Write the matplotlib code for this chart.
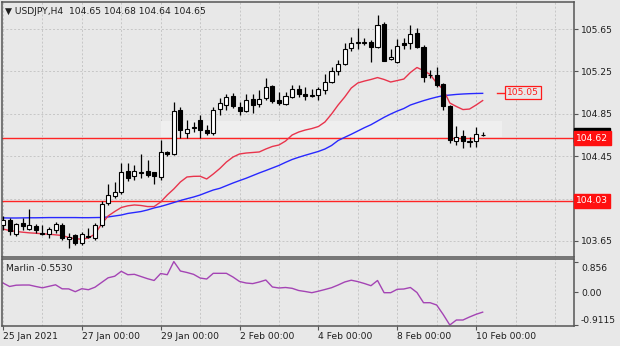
import numpy as np
import matplotlib.pyplot as plt
from matplotlib.patches import Rectangle
from matplotlib.transforms import ScaledTranslation

# USDJPY H4 candles, 25 Jan 2021 00:00 .. 10 Feb 2021 04:00
opens = [103.80, 103.85, 103.72, 103.82, 103.76, 103.79, 103.73, 103.72, 103.75, 103.80,
         103.67, 103.71, 103.63, 103.69, 103.68, 103.80, 104.01, 104.07, 104.11, 104.31,
         104.26, 104.29, 104.31, 104.30, 104.25, 104.49, 104.47, 104.89, 104.67, 104.72,
         104.79, 104.70, 104.67, 104.90, 104.93, 105.02, 104.91, 104.88, 104.99, 104.94,
         105.00, 105.11, 104.98, 104.94, 105.01, 105.08, 105.04, 105.02, 105.03, 105.075,
         105.15, 105.25, 105.32, 105.47, 105.515, 105.52, 105.53, 105.48, 105.70, 105.365,
         105.34, 105.515, 105.515, 105.61, 105.48, 105.216, 105.22, 105.13, 104.92, 104.59,
         104.64, 104.587, 104.59, 104.65]
highs = [103.89, 103.864, 103.823, 103.864, 103.949, 103.808, 103.80, 103.78, 103.833, 103.817,
         103.723, 103.717, 103.738, 103.77, 103.817, 104.031, 104.188, 104.21, 104.383, 104.383,
         104.367, 104.471, 104.415, 104.30, 104.603, 104.50, 104.965, 104.917, 104.792, 104.776,
         104.839, 104.745, 104.917, 104.996, 105.04, 105.05, 104.965, 105.04, 105.04, 105.075,
         105.185, 105.12, 105.06, 105.06, 105.12, 105.12, 105.106, 105.08, 105.106, 105.23,
         105.295, 105.358, 105.515, 105.578, 105.657, 105.562, 105.546, 105.782, 105.72, 105.459,
         105.553, 105.562, 105.688, 105.657, 105.50, 105.263, 105.29, 105.144, 104.933, 104.735,
         104.697, 104.634, 104.728, 104.68]
lows = [103.75, 103.707, 103.697, 103.754, 103.754, 103.723, 103.707, 103.676, 103.723, 103.66,
        103.581, 103.613, 103.613, 103.676, 103.66, 103.785, 103.99, 104.053, 104.094, 104.22,
        104.226, 104.242, 104.257, 104.188, 104.226, 104.45, 104.462, 104.619, 104.619, 104.682,
        104.619, 104.65, 104.65, 104.839, 104.886, 104.902, 104.839, 104.87, 104.86, 104.917,
        104.98, 104.95, 104.933, 104.93, 104.996, 105.01, 104.98, 105.01, 104.98, 105.04,
        105.138, 105.216, 105.31, 105.445, 105.459, 105.50, 105.342, 105.468, 105.35, 105.358,
        105.332, 105.459, 105.459, 105.468, 105.153, 105.185, 105.10, 104.886, 104.572, 104.556,
        104.525, 104.54, 104.54, 104.64]
closes = [103.85, 103.74, 103.81, 103.79, 103.80, 103.75, 103.72, 103.76, 103.81, 103.68,
          103.69, 103.63, 103.72, 103.70, 103.80, 104.00, 104.08, 104.11, 104.30, 104.24,
          104.31, 104.30, 104.27, 104.26, 104.49, 104.47, 104.88, 104.70, 104.71, 104.725,
          104.70, 104.67, 104.89, 104.95, 105.01, 104.92, 104.88, 104.98, 104.93, 104.99,
          105.10, 104.97, 104.955, 105.02, 105.08, 105.04, 105.02, 105.02, 105.08, 105.15,
          105.25, 105.32, 105.46, 105.52, 105.525, 105.52, 105.48, 105.69, 105.35, 105.39,
          105.49, 105.50, 105.60, 105.48, 105.20, 105.216, 105.12, 104.92, 104.60, 104.63,
          104.59, 104.587, 104.66, 104.65]

# moving averages drawn on the price window
ma_red = [103.763, 103.749, 103.740, 103.733, 103.727, 103.723, 103.718, 103.714, 103.708, 103.702,
          103.683, 103.671, 103.667, 103.678, 103.716, 103.810, 103.886, 103.928, 103.966, 103.982,
          103.990, 103.985, 103.975, 103.975, 104.018, 104.084, 104.141, 104.207, 104.254, 104.260,
          104.261, 104.235, 104.282, 104.334, 104.395, 104.442, 104.471, 104.480, 104.485, 104.490,
          104.518, 104.542, 104.556, 104.593, 104.650, 104.678, 104.697, 104.711, 104.730, 104.773,
          104.848, 104.933, 105.008, 105.093, 105.141, 105.159, 105.174, 105.192, 105.174, 105.150,
          105.164, 105.178, 105.240, 105.287, 105.258, 105.221, 105.141, 105.079, 104.952, 104.919,
          104.890, 104.895, 104.933, 104.975]
ma_blue = [103.868, 103.867, 103.867, 103.868, 103.869, 103.869, 103.870, 103.871, 103.871, 103.871,
           103.871, 103.871, 103.870, 103.870, 103.871, 103.872, 103.877, 103.886, 103.895, 103.910,
           103.919, 103.928, 103.943, 103.962, 103.976, 103.994, 104.013, 104.032, 104.049, 104.065,
           104.084, 104.108, 104.131, 104.147, 104.172, 104.197, 104.220, 104.242, 104.267, 104.292,
           104.315, 104.339, 104.363, 104.392, 104.419, 104.440, 104.459, 104.477, 104.495, 104.518,
           104.551, 104.598, 104.628, 104.657, 104.688, 104.719, 104.747, 104.782, 104.817, 104.848,
           104.876, 104.900, 104.933, 104.954, 104.974, 104.992, 105.008, 105.022, 105.027, 105.033,
           105.037, 105.040, 105.042, 105.043]

# Marlin oscillator
marlin = [0.259, 0.162, 0.198, 0.203, 0.203, 0.162, 0.125, 0.167, 0.209, 0.097,
          0.095, 0.017, 0.100, 0.072, 0.142, 0.273, 0.404, 0.448, 0.585, 0.490,
          0.501, 0.440, 0.379, 0.329, 0.524, 0.490, 0.856, 0.593, 0.552, 0.501,
          0.398, 0.370, 0.529, 0.529, 0.529, 0.426, 0.301, 0.259, 0.242, 0.287,
          0.343, 0.148, 0.120, 0.134, 0.111, 0.050, 0.022, -0.011, 0.031, 0.078,
          0.128, 0.203, 0.287, 0.337, 0.298, 0.245, 0.184, 0.329, -0.011, -0.011,
          0.084, 0.092, 0.134, -0.006, -0.290, -0.290, -0.354, -0.620, -0.9115, -0.772,
          -0.772, -0.688, -0.613, -0.553]

price_ticks = [103.65, 104.05, 104.45, 104.85, 105.25, 105.65]
price_tick_labels = ['103.65', '', '104.45', '104.85', '105.25', '105.65']
marlin_ticks = [0.856, 0.0, -0.9115]
marlin_tick_labels = ['0.856', '0.00', '-0.9115']
time_ticks = [0, 12, 24, 36, 48, 60, 72]
time_labels = ['25 Jan 2021', '27 Jan 00:00', '29 Jan 00:00', '2 Feb 00:00',
               '4 Feb 00:00', '8 Feb 00:00', '10 Feb 00:00']
levels = [104.62, 104.03]
target = 105.05
zone_low, zone_high = 104.63, 104.78
zone_start = 24

bg = '#e8e8e8'
grid_c = '#c6c6c6'
frame_c = '#555555'
txt_c = '#1e1e1e'
fs = 6.6

plt.rcParams['font.family'] = ['DejaVu Sans']

idx = np.arange(len(opens))
o = np.array(opens)
c = np.array(closes)
n = len(opens)

fig = plt.figure(figsize=(6.2, 3.46), dpi=100, facecolor=bg)
ax = fig.add_axes([2 / 620, 1 - 257 / 346, 572 / 620, 255 / 346], facecolor=bg)
ax2 = fig.add_axes([2 / 620, 1 - 326 / 346, 572 / 620, 67 / 346], facecolor=bg)

x_lo, x_hi = -0.15, 86.9
for a in (ax, ax2):
    a.set_xlim(x_lo, x_hi)
    for s in a.spines.values():
        s.set_color(frame_c)
        s.set_linewidth(1.1)
    a.yaxis.tick_right()
    a.tick_params(axis='y', length=3, width=0.8, colors=frame_c, labelcolor=txt_c,
                  labelsize=fs, pad=2)

# price window
ax.set_ylim(103.499, 105.905)
ax.set_yticks(price_ticks)
ax.set_yticklabels(price_tick_labels)
ax.set_xticks(np.arange(0, 87, 6))
ax.tick_params(axis='x', length=0, labelbottom=False)
ax.grid(True, color=grid_c, ls=(0, (2, 2)), lw=0.7)
ax.set_axisbelow(True)

ax.add_patch(Rectangle((zone_start, zone_low), n + 2 - zone_start, zone_high - zone_low,
                       facecolor='#efefef', edgecolor='none', zorder=0.8))

for lv in levels:
    ax.axhline(lv, color='#ff2424', lw=1.0, zorder=2)

ax.plot(idx, ma_blue, color='#2828ff', lw=1.0, zorder=2.2)
ax.plot(idx, ma_red, color='#e8344c', lw=1.0, zorder=2.2)

# candles
ax.vlines(idx, lows, highs, color='black', lw=0.9, zorder=3)
body_lo = np.minimum(o, c)
body_h = np.maximum(np.abs(c - o), 0.004)
ax.bar(idx, body_h, 0.62, bottom=body_lo, color=np.where(c >= o, 'white', 'black'),
       edgecolor='black', lw=0.8, zorder=4)

# projected level
ax.plot([n + 1.2, n + 2.4], [target, target], color='#ff2424', lw=1.0, zorder=3)
ax.text(n + 2.7, target, f'{target:.2f}', color='#ff1a1a', fontsize=fs, ha='left', va='center',
        bbox=dict(boxstyle='square,pad=0.18', fc=bg, ec='#ff1a1a', lw=0.9), zorder=5)


def price_tag(y, text, fc, z):
    ax.annotate(text, xy=(1, y), xycoords=('axes fraction', 'data'), xytext=(1.5, 0),
                textcoords='offset points', ha='left', va='center', color='white', fontsize=fs,
                bbox=dict(boxstyle='square,pad=0.25', fc=fc, ec=fc), zorder=z,
                annotation_clip=False)


price_tag(closes[-1], f'{closes[-1]:.2f}', 'black', 6)
for lv in levels:
    price_tag(lv, f'{lv:.2f}', '#ff1010', 7)

ax.text(0.005, 0.962, '\u25bc USDJPY,H4  ' + ' '.join(f'{v:.2f}' for v in
        (opens[-1], highs[-1], lows[-1], closes[-1])),
        transform=ax.transAxes, fontsize=fs, color=txt_c, ha='left', va='center')

# Marlin window
ax2.set_ylim(-0.939, 0.928)
ax2.plot(idx, marlin, color='#a444b4', lw=1.0)
ax2.set_yticks(marlin_ticks)
ax2.set_yticklabels(marlin_tick_labels)
shift = {0: -4 / 72, 2: 4 / 72}
for k, lab in enumerate(ax2.get_yticklabels()):
    if k in shift:
        lab.set_transform(lab.get_transform() + ScaledTranslation(0, shift[k], fig.dpi_scale_trans))
ax2.set_xticks(time_ticks)
ax2.set_xticklabels(time_labels, ha='left')
ax2.set_xticks(np.arange(0, 87, 6), minor=True)
ax2.tick_params(axis='x', which='major', length=3, width=0.8, colors=frame_c,
                labelcolor=txt_c, labelsize=fs, pad=1.5)
ax2.tick_params(axis='x', which='minor', length=0)
ax2.grid(True, which='both', axis='x', color=grid_c, ls=(0, (2, 2)), lw=0.7)
ax2.set_axisbelow(True)
ax2.text(0.007, 0.865, f'Marlin {marlin[-1]:.4f}', transform=ax2.transAxes, fontsize=fs,
         color=txt_c, ha='left', va='center')

fig.savefig('out.png', dpi=100, facecolor=bg)
